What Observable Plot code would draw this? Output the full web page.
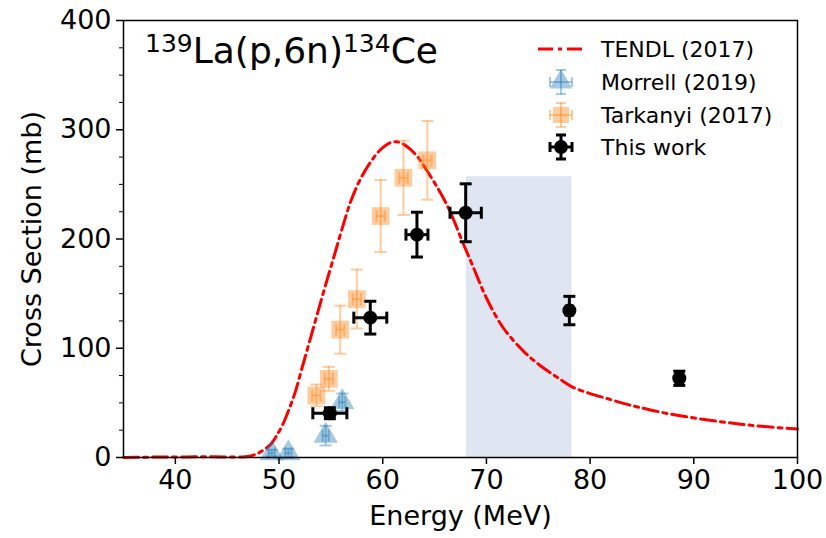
<!DOCTYPE html>
<html><head><meta charset="utf-8">
<script src="https://cdn.jsdelivr.net/npm/d3@7"></script>
<script src="https://cdn.jsdelivr.net/npm/@observablehq/plot@0.6"></script>
<style>body{margin:0;background:#fff}</style>
</head><body><div id="chart"></div>
<script>
// ---- data ----
const xTicks = [40, 50, 60, 70, 80, 90, 100];
const yTicks = [0, 100, 200, 300, 400];
const yMinorTicks = [25, 50, 75, 125, 150, 175, 225, 250, 275, 325, 350, 375];

const tendlEnergy = [35, 37, 39, 41, 43, 45, 46.5, 47.3, 48, 48.6, 49.2, 49.7, 50.3, 51, 51.6, 52.1, 52.7, 53.5, 54.4, 55.3, 56.1, 56.9, 57.8, 58.8, 59.7, 60.7, 61.4, 62.3, 63.3, 64.1, 64.9, 65.7, 66.5, 67.8, 68.7, 70.0, 71.6, 73.5, 74.8, 76.1, 77.2, 78.3, 80.0, 81.8, 83.2, 84.7, 87.6, 92.4, 96, 100];
const tendlXS = [0, 0.3, 0.5, 0.5, 0.8, 0.5, 0.5, 1.5, 4, 7.5, 12, 19, 29, 45, 61, 78, 98, 125, 155, 184, 210, 234, 254, 270, 281, 288, 289, 285, 276, 265, 253, 240, 225, 195, 175, 146, 119, 98, 87, 78, 71, 64.5, 58.5, 53.5, 49.5, 46, 40, 33, 29, 26];

const morrellEnergy = [49.3, 50.9, 54.5, 56.1];
const morrellXS = [4, 4, 20, 50.6];
const morrellDE = [0.3, 0.3, 0.3, 0.3];
const morrellDXS = [3, 4, 9, 8];

const tarkanyiEnergy = [53.6, 54.8, 55.9, 57.5, 59.8, 62.0, 64.3];
const tarkanyiXS = [56.8, 72, 117, 145, 221, 256, 272];
const tarkanyiDE = [0.4, 0.4, 0.4, 0.4, 0.4, 0.4, 0.4];
const tarkanyiDXS = [10, 11, 22, 27, 33, 34, 36];

const workEnergy = [54.9, 58.8, 63.3, 68.0, 78.0, 88.6];
const workXS = [40.5, 128, 204, 224, 134.5, 72.5];
const workDE = [1.64, 1.59, 1.06, 1.51, 0.3, 0.3];
const workDXS = [5, 15, 20.5, 26.5, 13, 6.5];

const shadeEnergy = [68.07, 78.25];
const shadeTop = 257;

const legendLabels = ["TENDL (2017)", "Morrell (2019)", "Tarkanyi (2017)", "This work"];

// ---- tables ----
const tendl = tendlEnergy.map((e, i) => ({e, xs: tendlXS[i]}));
const mk = (E, XS, DE, DXS) => E.map((e, i) => ({e, xs: XS[i], de: DE[i], dxs: DXS[i]}));
const morrell = mk(morrellEnergy, morrellXS, morrellDE, morrellDXS);
const tarkanyi = mk(tarkanyiEnergy, tarkanyiXS, tarkanyiDE, tarkanyiDXS);
const work = mk(workEnergy, workXS, workDE, workDXS);
const shade = [{x1: shadeEnergy[0], x2: shadeEnergy[1], y1: 0, y2: shadeTop}];

const hcap = w => ({draw(ctx) { ctx.moveTo(-w, 0); ctx.lineTo(w, 0); }});
const vcap = w => ({draw(ctx) { ctx.moveTo(0, -w); ctx.lineTo(0, w); }});

function errorMarks(data, color, opacity, sw, capW) {
  const s = {stroke: color, strokeOpacity: opacity, strokeWidth: sw};
  return [
    Plot.ruleX(data, {x: "e", y1: d => d.xs - d.dxs, y2: d => d.xs + d.dxs, ...s}),
    Plot.ruleY(data, {y: "xs", x1: d => d.e - d.de, x2: d => d.e + d.de, ...s}),
    Plot.dot(data, {x: "e", y: d => d.xs - d.dxs, symbol: hcap(capW), fill: "none", ...s}),
    Plot.dot(data, {x: "e", y: d => d.xs + d.dxs, symbol: hcap(capW), fill: "none", ...s}),
    Plot.dot(data, {x: d => d.e - d.de, y: "xs", symbol: vcap(capW), fill: "none", ...s}),
    Plot.dot(data, {x: d => d.e + d.de, y: "xs", symbol: vcap(capW), fill: "none", ...s})
  ];
}

const blue = "#1f77b4", orange = "#ff7f0e";
const font = "DejaVu Sans, sans-serif";

const chart = Plot.plot({
  width: 826, height: 538,
  marginLeft: 123, marginRight: 29, marginTop: 20, marginBottom: 81,
  x: {domain: [35, 100]},
  y: {domain: [0, 400]},
  style: {fontFamily: font, background: "white", color: "black"},
  marks: [
    Plot.rect(shade, {x1: "x1", x2: "x2", y1: "y1", y2: "y2", fill: "#dfe6f2"}),
    Plot.line(tendl, {x: "e", y: "xs", stroke: "red", strokeWidth: 3, strokeDasharray: "15,5,4,5", curve: "catmull-rom"}),
    ...errorMarks(morrell, blue, 0.4, 2, 6),
    Plot.dot(morrell, {x: "e", y: "xs", symbol: "triangle", r: 9, fill: blue, fillOpacity: 0.4, stroke: "none"}),
    ...errorMarks(tarkanyi, orange, 0.4, 2, 6),
    Plot.dot(tarkanyi, {x: "e", y: "xs", symbol: "square", r: 10, fill: orange, fillOpacity: 0.4, stroke: "none"}),
    ...errorMarks(work, "black", 1, 3, 6),
    Plot.dot(work, {x: "e", y: "xs", r: 7, fill: "black", stroke: "none"}),
    Plot.frame({stroke: "black", strokeWidth: 1.5}),
    Plot.axisX({ticks: xTicks, tickSize: 7, tickPadding: 5, fontSize: 27, label: null, strokeWidth: 1.5}),
    Plot.axisY({ticks: yTicks, tickSize: 7, tickPadding: 5, fontSize: 27, label: null, strokeWidth: 1.5}),
    Plot.axisY({ticks: yMinorTicks, tickSize: 4, tickFormat: () => "", label: null, strokeWidth: 1}),
    Plot.text(["Energy (MeV)"], {text: d => d, frameAnchor: "bottom", textAnchor: "middle", dy: 67, fontSize: 27}),
    Plot.text(["Cross Section (mb)"], {text: d => d, frameAnchor: "left", textAnchor: "middle", lineAnchor: "middle", dx: -91, rotate: -90, fontSize: 27})
  ]
});
document.getElementById("chart").appendChild(chart);

// ---- title with superscripts ----
const svg = d3.select(chart);
const title = svg.append("text").attr("x", 145).attr("y", 63).attr("text-anchor", "start")
  .attr("font-family", font).attr("font-size", 36).attr("fill", "black");
title.append("tspan").attr("font-size", 25).attr("dy", -11).text("139");
title.append("tspan").attr("dy", 11).text("La(p,6n)");
title.append("tspan").attr("font-size", 25).attr("dy", -11).text("134");
title.append("tspan").attr("dy", 11).text("Ce");

// ---- legend ----
const lg = svg.append("g").attr("font-family", font).attr("font-size", 22).attr("text-anchor", "start");
const rows = [49, 82, 115, 147];
const gx = 561;
lg.append("line").attr("x1", 538).attr("x2", 583).attr("y1", rows[0]).attr("y2", rows[0])
  .attr("stroke", "red").attr("stroke-width", 3).attr("stroke-dasharray", "15,5,4,5");
function glyph(y, color, op, sw, sym, size) {
  const g = lg.append("g").attr("stroke", color).attr("stroke-opacity", op).attr("stroke-width", sw);
  g.append("line").attr("x1", gx).attr("x2", gx).attr("y1", y - 12).attr("y2", y + 12);
  g.append("line").attr("x1", gx - 11).attr("x2", gx + 11).attr("y1", y).attr("y2", y);
  g.append("line").attr("x1", gx - 5).attr("x2", gx + 5).attr("y1", y - 12).attr("y2", y - 12);
  g.append("line").attr("x1", gx - 5).attr("x2", gx + 5).attr("y1", y + 12).attr("y2", y + 12);
  g.append("line").attr("x1", gx - 11).attr("x2", gx - 11).attr("y1", y - 5).attr("y2", y + 5);
  g.append("line").attr("x1", gx + 11).attr("x2", gx + 11).attr("y1", y - 5).attr("y2", y + 5);
  lg.append("path").attr("transform", `translate(${gx},${y})`)
    .attr("d", d3.symbol(sym, size)()).attr("fill", color).attr("fill-opacity", op);
}
glyph(rows[1], blue, 0.4, 2, d3.symbolTriangle, 220);
glyph(rows[2], orange, 0.4, 2, d3.symbolSquare, 260);
glyph(rows[3], "black", 1, 3, d3.symbolCircle, 150);
legendLabels.forEach((t, i) => {
  lg.append("text").attr("x", 601).attr("y", rows[i]).attr("dy", "0.35em").attr("fill", "black").text(t);
});
</script>
</body></html>
